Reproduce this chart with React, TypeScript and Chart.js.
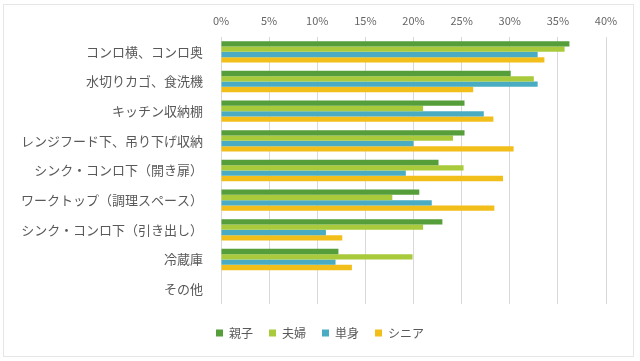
import React, { useEffect, useRef } from "react";
import { Chart, registerables } from "chart.js";

Chart.register(...registerables);

const categories = [
  "コンロ横、コンロ奥",
  "水切りカゴ、食洗機",
  "キッチン収納棚",
  "レンジフード下、吊り下げ収納",
  "シンク・コンロ下（開き扉）",
  "ワークトップ（調理スペース）",
  "シンク・コンロ下（引き出し）",
  "冷蔵庫",
  "その他",
];

const seriesNames = ["親子", "夫婦", "単身", "シニア"];

const oyako = [36.2, 30.1, 25.3, 25.3, 22.6, 20.6, 23.0, 12.2, 0];
const fufu = [35.7, 32.5, 21.0, 24.1, 25.2, 17.8, 21.0, 19.9, 0];
const tanshin = [32.9, 32.9, 27.3, 20.0, 19.2, 21.9, 10.9, 11.9, 0];
const senior = [33.6, 26.2, 28.3, 30.4, 29.3, 28.4, 12.6, 13.6, 0];

const colors = ["#559E39", "#A8CA3B", "#4AACC2", "#F2BE1A"];

const xTicks = [0, 5, 10, 15, 20, 25, 30, 35, 40];

const FONT = "'Noto Sans CJK JP', 'Noto Sans', sans-serif";

export default function App() {
  const ref = useRef<HTMLCanvasElement | null>(null);

  useEffect(() => {
    if (!ref.current) return;
    const values = [oyako, fufu, tanshin, senior];
    const chart = new Chart(ref.current, {
      type: "bar",
      data: {
        labels: categories,
        datasets: seriesNames.map((name, i) => ({
          label: name,
          data: values[i],
          backgroundColor: colors[i],
          borderWidth: 0,
          categoryPercentage: 0.72,
          barPercentage: 1.0,
          xAxisID: "x",
          yAxisID: "y",
        })),
      },
      options: {
        indexAxis: "y",
        animation: false,
        responsive: false,
        layout: { padding: { top: 0, right: 0, bottom: 12, left: 0 } },
        plugins: {
          tooltip: { enabled: false },
          legend: {
            position: "bottom",
            labels: {
              boxWidth: 7,
              boxHeight: 7,
              padding: 16,
              color: "#595959",
              font: { family: FONT, size: 12 },
            },
          },
        },
        scales: {
          x: {
            type: "linear",
            position: "top",
            min: 0,
            max: 40,
            afterBuildTicks: (s: any) => {
              s.ticks = xTicks.map((v) => ({ value: v }));
            },
            afterFit: (s: any) => {
              s.height = 37;
            },
            ticks: {
              callback: (v: any) => v + "%",
              color: "#666666",
              font: { family: FONT, size: 11 },
              padding: 10,
            },
            grid: { color: "#D9D9D9", drawTicks: false },
            border: { display: false },
          },
          xB: {
            type: "linear",
            position: "bottom",
            display: true,
            ticks: { display: false },
            grid: { display: false },
            border: { display: false },
            afterFit: (s: any) => {
              s.height = 7;
            },
          },
          y: {
            type: "category",
            position: "left",
            afterFit: (s: any) => {
              s.width = 221;
            },
            ticks: {
              color: "#595959",
              font: { family: FONT, size: 13 },
              padding: 18,
            },
            grid: { display: false, drawTicks: false },
            border: { display: false },
          },
          yR: {
            type: "linear",
            position: "right",
            display: true,
            ticks: { display: false },
            grid: { display: false },
            border: { display: false },
            afterFit: (s: any) => {
              s.width = 34;
            },
          },
        },
      },
    } as any);
    return () => chart.destroy();
  }, []);

  return (
    <div style={{ position: "absolute", left: 0, top: 0, width: 640, height: 361, background: "#ffffff" }}>
      <div
        style={{
          position: "absolute",
          left: 3,
          top: 4,
          width: 629,
          height: 351,
          border: "1px solid #E6E6E6",
        }}
      />
      <canvas
        ref={ref}
        width={640}
        height={361}
        style={{ position: "absolute", left: 0, top: 0, width: 640, height: 361 }}
      />
    </div>
  );
}
